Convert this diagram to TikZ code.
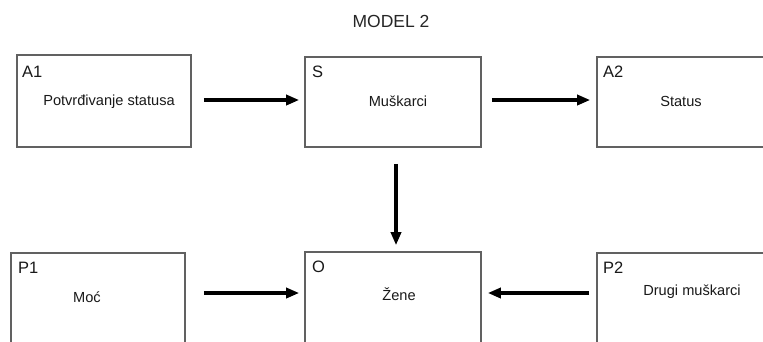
\documentclass[tikz,border=0pt]{standalone}
\usepackage{fontspec}
\setmainfont{Liberation Sans}
\usetikzlibrary{arrows.meta}
\begin{document}
\begin{tikzpicture}[x=1pt,y=-1pt,
  box/.style={draw=black!62, line width=1.6pt, fill=white, inner sep=0pt},
  tag/.style={anchor=north west, inner sep=0pt, text=black!90, font=\fontsize{16.5}{17}\selectfont},
  txt/.style={inner sep=0pt, text=black!90, font=\fontsize{14.6}{15}\selectfont},
  arr/.style={line width=3.4pt, -{Triangle[length=13pt,width=10pt]}}]
  \useasboundingbox (0,0) rectangle (763,341);
  \clip (0,0) rectangle (763,341);

  \node[inner sep=0pt, text=black!85, font=\fontsize{17.5}{18}\selectfont] (title) at (391,21) {MODEL 2};

  % upper row
  \node[box, minimum width=174pt, minimum height=92pt] (a1) at (104,101) {};
  \node[box, minimum width=176pt, minimum height=90pt] (s) at (393,102) {};
  \node[box, minimum width=200pt, minimum height=90pt] (a2) at (697,102) {};

  % lower row (boxes run past the lower edge)
  \node[box, minimum width=174pt, minimum height=110pt] (p1) at (98,308) {};
  \node[box, minimum width=176pt, minimum height=110pt] (o) at (393,307) {};
  \node[box, minimum width=200pt, minimum height=110pt] (p2) at (697,308) {};

  % corner tags
  \node[tag] (ta1) at (22,66) {A1};
  \node[tag] (ts) at (312,66) {S};
  \node[tag] (ta2) at (603,66) {A2};
  \node[tag] (tp1) at (18,262) {P1};
  \node[tag] (to) at (312,261) {O};
  \node[tag] (tp2) at (603,262) {P2};

  % box texts
  \node[txt] (l1) at (109,102) {Potvrđivanje statusa};
  \node[txt] (l2) at (398,101) {Muškarci};
  \node[txt] (l3) at (681,101) {Status};
  \node[txt] (l4) at (87,297) {Moć};
  \node[txt] (l5) at (399,294) {Žene};
  \node[txt] (l6) at (692,292) {Drugi muškarci};

  % connectors
  \coordinate (ya) at (0,100);
  \coordinate (yb) at (0,293);
  \draw[arr, shorten <=12pt, shorten >=5pt] (a1.east |- ya) -- (s.west |- ya);
  \draw[arr, shorten <=10pt, shorten >=6pt] (s.east |- ya) -- (a2.west |- ya);
  \draw[arr, shorten <=16pt, shorten >=6pt] ([xshift=3pt]s.south) -- ([xshift=3pt]o.north);
  \draw[arr, shorten <=18pt, shorten >=5pt] (p1.east |- yb) -- (o.west |- yb);
  \draw[arr, shorten <=7pt, shorten >=6pt] (p2.west |- yb) -- (o.east |- yb);
\end{tikzpicture}
\end{document}
